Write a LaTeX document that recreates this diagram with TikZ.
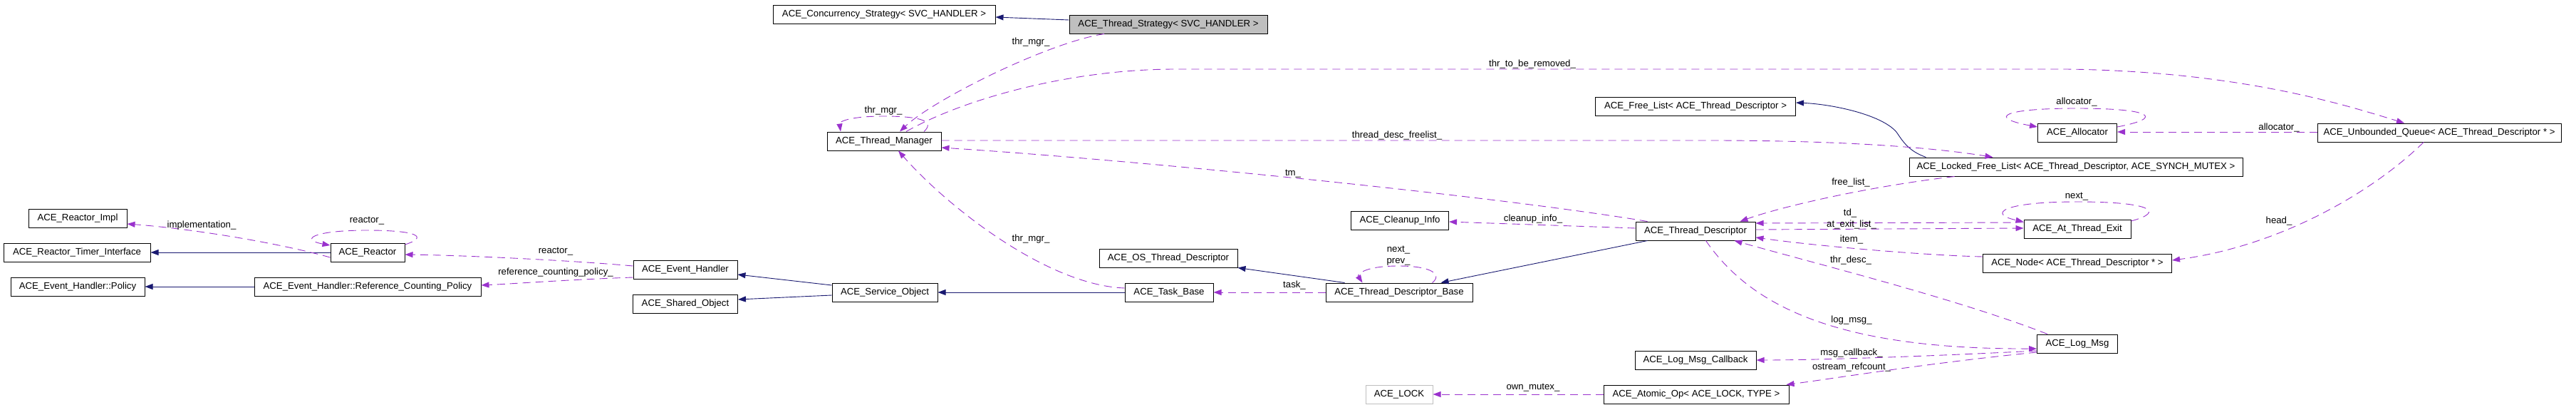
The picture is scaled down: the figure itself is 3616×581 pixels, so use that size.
\documentclass[tikz,border=0pt]{standalone}
\usepackage{fontspec}
\setmainfont{Liberation Sans}
\usetikzlibrary{arrows.meta}
\definecolor{inhblue}{HTML}{191970}
\definecolor{usepurple}{HTML}{9A32CD}
\definecolor{undoc}{HTML}{BFBFBF}
\newcommand{\dfont}{\fontsize{13.2}{16}\selectfont}

\begin{document}
\begin{tikzpicture}[x=1pt,y=-1pt,
	cls/.style={draw,line width=1pt,minimum height=26pt,inner sep=0pt,font=\dfont},
	inherit/.style={draw=inhblue,line width=0.9pt,-{Triangle[length=11pt,width=8pt]}},
	usage/.style={draw=usepurple,line width=0.9pt,dash pattern=on 11pt off 7pt,-{Triangle[length=11pt,width=8pt]}},
	lbl/.style={font=\dfont,inner sep=0pt}]
	\useasboundingbox (0,0) rectangle (3616,581);

	\node[cls,minimum width=138pt] (impl) at (109,306) {ACE\_Reactor\_Impl};
	\node[cls,minimum width=206pt] (rti) at (108,354) {ACE\_Reactor\_Timer\_Interface};
	\node[cls,minimum width=188pt] (policy) at (109,402) {ACE\_Event\_Handler::Policy};
	\node[cls,minimum width=104pt] (reactor) at (516,354) {ACE\_Reactor};
	\node[cls,minimum width=318pt] (rcp) at (516,402) {ACE\_Event\_Handler::Reference\_Counting\_Policy};
	\node[cls,minimum width=146pt] (evh) at (962,378) {ACE\_Event\_Handler};
	\node[cls,minimum width=147pt] (sho) at (962,426) {ACE\_Shared\_Object};
	\node[cls,minimum width=148pt] (svo) at (1242,410) {ACE\_Service\_Object};
	\node[cls,minimum width=160pt] (tm) at (1241,198) {ACE\_Thread\_Manager};
	\node[cls,minimum width=312pt] (conc) at (1241,20) {ACE\_Concurrency\_Strategy< SVC\_HANDLER >};
	\node[cls,minimum width=278pt,fill=undoc] (tstrat) at (1640,34) {ACE\_Thread\_Strategy< SVC\_HANDLER >};
	\node[cls,minimum width=194pt] (ostd) at (1640,362) {ACE\_OS\_Thread\_Descriptor};
	\node[cls,minimum width=124pt] (tb) at (1641,410) {ACE\_Task\_Base};
	\node[cls,minimum width=137pt] (cleanup) at (1965,309) {ACE\_Cleanup\_Info};
	\node[cls,minimum width=206pt] (tdb) at (1964,410) {ACE\_Thread\_Descriptor\_Base};
	\node[cls,minimum width=94pt,draw=undoc] (lock) at (1964,553) {ACE\_LOCK};
	\node[cls,minimum width=281pt] (freel) at (2380,149) {ACE\_Free\_List< ACE\_Thread\_Descriptor >};
	\node[cls,minimum width=168pt] (td) at (2380,324) {ACE\_Thread\_Descriptor};
	\node[cls,minimum width=170pt] (cb) at (2380,505) {ACE\_Log\_Msg\_Callback};
	\node[cls,minimum width=260pt] (atomic) at (2381,553) {ACE\_Atomic\_Op< ACE\_LOCK, TYPE >};
	\node[cls,minimum width=111pt] (alloc) at (2916,186) {ACE\_Allocator};
	\node[cls,minimum width=468pt] (lfl) at (2914,234) {ACE\_Locked\_Free\_List< ACE\_Thread\_Descriptor, ACE\_SYNCH\_MUTEX >};
	\node[cls,minimum width=150pt] (ate) at (2916,321) {ACE\_At\_Thread\_Exit};
	\node[cls,minimum width=265pt] (node) at (2916,369) {ACE\_Node< ACE\_Thread\_Descriptor * >};
	\node[cls,minimum width=113pt] (logmsg) at (2916,482) {ACE\_Log\_Msg};
	\node[cls,minimum width=342pt] (uq) at (3424,186) {ACE\_Unbounded\_Queue< ACE\_Thread\_Descriptor * >};

	\draw[inherit] ([yshift=6pt]tstrat.west) -- ([yshift=-4pt]conc.east);
	\draw[inherit] (reactor.west) -- (rti.east);
	\draw[inherit] (rcp.west) -- (policy.east);
	\draw[inherit] ([yshift=10pt]svo.west) -- ([yshift=-7pt]evh.east);
	\draw[inherit] ([yshift=-4pt]svo.west) -- ([yshift=6pt]sho.east);
	\draw[inherit] (tb.west) -- (svo.east);
	\draw[inherit] ([xshift=27pt]tdb.north west) -- (ostd.south east);
	\draw[inherit] ([xshift=17pt]td.south west) -- ([xshift=-45pt]tdb.north east);
	\draw[inherit] ([xshift=24pt]lfl.north west) .. controls (2680,212) and (2672,200) .. (2662,185)
		.. controls (2640,160) and (2570,146) .. ([yshift=5pt]freel.east);

	\draw[usage] ([xshift=-90pt]tstrat.south) .. controls (1470,60) and (1310,140) .. ([xshift=22pt]tm.north);
	\draw[usage] ([xshift=56pt]tm.north) .. controls (1315,168) and (1285,163) .. (1240,163)
		.. controls (1195,163) and (1178,170) .. ([xshift=-61pt]tm.north);
	\draw[usage] ([xshift=17pt]td.north west) .. controls (2100,275) and (1600,225) .. ([yshift=-9pt]tm.east);
	\draw[usage] ([yshift=6pt]tb.west) .. controls (1470,400) and (1330,290) .. ([xshift=20pt]tm.south);
	\draw[usage] ([xshift=31pt]tm.north) .. controls (1350,140) and (1500,97) .. (1650,97) -- (2900,97)
		.. controls (3150,100) and (3300,150) .. ([xshift=-49pt]uq.north);
	\draw[usage] ([yshift=1pt]tm.east) -- (2400,197) .. controls (2600,197) and (2720,208) .. ([xshift=118pt]lfl.north west);
	\draw[usage] ([xshift=64pt]lfl.south west) .. controls (2620,262) and (2500,290) .. ([xshift=-22pt]td.north east);
	\draw[usage] ([yshift=9pt]ate.west) -- ([yshift=11pt]td.east);
	\draw[usage] ([yshift=2pt]td.east) -- ([yshift=1pt]ate.west);
	\draw[usage] ([yshift=9pt]node.west) .. controls (2700,358) and (2550,345) .. ([yshift=-9pt]td.east);
	\draw[usage] ([xshift=15pt]logmsg.north west) .. controls (2750,420) and (2550,370) .. ([xshift=-30pt]td.south east);
	\draw[usage] ([xshift=99pt]td.south west) .. controls (2455,425) and (2570,490) .. ([yshift=-7pt]logmsg.west);
	\draw[usage] ([yshift=-10pt]logmsg.west) .. controls (2700,500) and (2550,505) .. (cb.east);
	\draw[usage] ([yshift=-12pt]logmsg.west) .. controls (2700,510) and (2580,530) .. ([xshift=-4pt]atomic.north east);
	\draw[usage] (atomic.west) -- (lock.east);
	\draw[usage] ([yshift=4pt]td.west) -- ([yshift=-2pt]cleanup.east);
	\draw[usage] ([xshift=-57pt]tdb.north east) .. controls (2025,385) and (2010,373) .. (1963,373)
		.. controls (1915,373) and (1905,385) .. ([xshift=52pt]tdb.north west);
	\draw[usage] (tdb.west) -- (tb.east);
	\draw[usage] ([yshift=-7pt]reactor.west) .. controls (380,338) and (260,320) .. ([yshift=-8pt]impl.east);
	\draw[usage] ([yshift=11pt]reactor.east) .. controls (600,333) and (590,323) .. (515,323)
		.. controls (440,323) and (420,336) .. ([yshift=10pt]reactor.west);
	\draw[usage] ([yshift=5pt]evh.west) .. controls (800,365) and (650,358) .. ([yshift=-3pt]reactor.east);
	\draw[usage] ([yshift=-11pt]evh.west) .. controls (800,392) and (720,398) .. ([yshift=2pt]rcp.east);
	\draw[usage] ([yshift=1pt]uq.west) -- ([yshift=1pt]alloc.east);
	\draw[usage] ([xshift=-22pt]uq.south) .. controls (3330,270) and (3200,345) .. ([yshift=4pt]node.east);
	\draw[usage] ([yshift=8pt]alloc.east) .. controls (3040,165) and (3020,152) .. (2915,152)
		.. controls (2810,152) and (2790,165) .. ([yshift=8pt]alloc.west);
	\draw[usage] ([yshift=11pt]ate.east) .. controls (3040,297) and (3020,283) .. (2916,283)
		.. controls (2810,283) and (2790,300) .. ([yshift=10pt]ate.west);

	\node[lbl] (l-thrmgr-a) at (1447,59) {thr\_mgr\_};
	\node[lbl] (l-thrmgr-b) at (1240,155) {thr\_mgr\_};
	\node[lbl] (l-thrmgr-c) at (1447,335) {thr\_mgr\_};
	\node[lbl] (l-tm) at (1815,244) {tm\_};
	\node[lbl] (l-remove) at (2151,90) {thr\_to\_be\_removed\_};
	\node[lbl] (l-freelist) at (1961,190) {thread\_desc\_freelist\_};
	\node[lbl] (l-free) at (2598,256) {free\_list\_};
	\node[lbl] (l-td) at (2597,299) {td\_};
	\node[lbl] (l-atexit) at (2599,315) {at\_exit\_list\_};
	\node[lbl] (l-item) at (2599,336) {item\_};
	\node[lbl] (l-thrdesc) at (2598,365) {thr\_desc\_};
	\node[lbl] (l-logmsg) at (2599,449) {log\_msg\_};
	\node[lbl] (l-callback) at (2599,495) {msg\_callback\_};
	\node[lbl] (l-refcount) at (2599,515) {ostream\_refcount\_};
	\node[lbl] (l-mutex) at (2152,544) {own\_mutex\_};
	\node[lbl] (l-cleanup) at (2152,307) {cleanup\_info\_};
	\node[lbl,align=center] (l-nextprev) at (1963,359) {next\_\\prev\_};
	\node[lbl] (l-task) at (1817,400) {task\_};
	\node[lbl] (l-impl) at (283,316) {implementation\_};
	\node[lbl] (l-reactor-a) at (515,310) {reactor\_};
	\node[lbl] (l-reactor-b) at (780,353) {reactor\_};
	\node[lbl] (l-refpolicy) at (780,382) {reference\_counting\_policy\_};
	\node[lbl] (l-alloc-a) at (3199,179) {allocator\_};
	\node[lbl] (l-head) at (3199,310) {head\_};
	\node[lbl] (l-alloc-b) at (2915,143) {allocator\_};
	\node[lbl] (l-next) at (2915,276) {next\_};
\end{tikzpicture}
\end{document}
